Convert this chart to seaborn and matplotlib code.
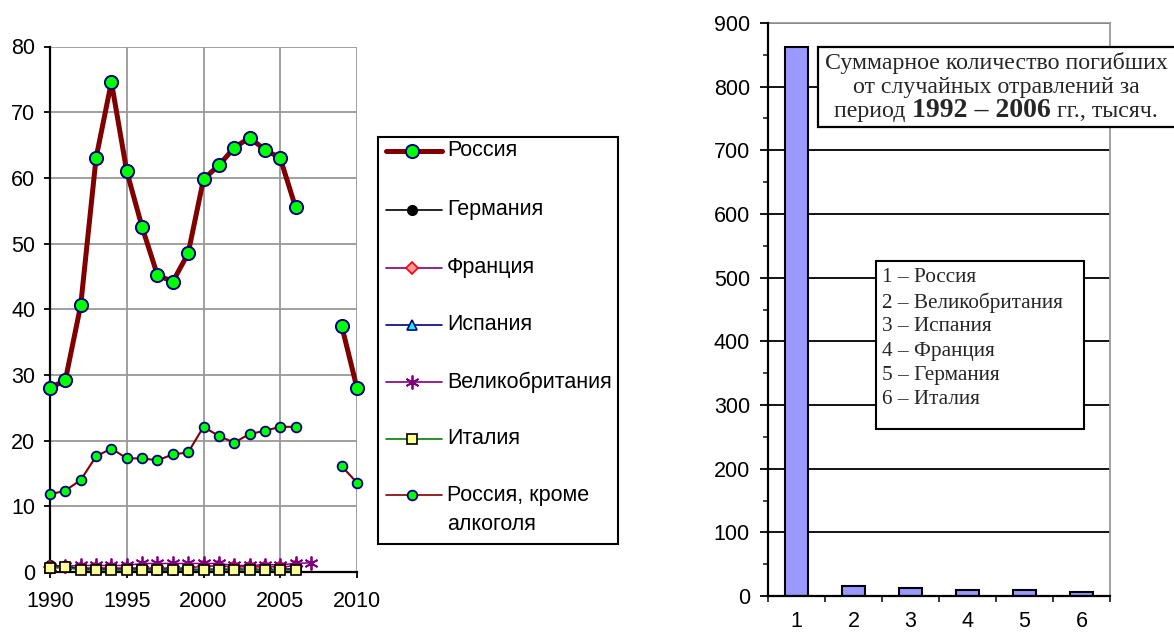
import matplotlib
matplotlib.use("Agg")
import matplotlib.pyplot as plt
import seaborn as sns
import numpy as np
import pandas as pd
from matplotlib.patches import Rectangle
from matplotlib.ticker import MultipleLocator, FixedLocator

# ---------------- data ----------------
years = list(range(1990, 2011))
russia = [28.0, 29.2, 40.6, 63.0, 74.6, 61.0, 52.5, 45.2, 44.2, 48.5, 59.8,
          61.9, 64.6, 66.1, 64.3, 63.0, 55.5, None, None, 37.5, 28.0]
russia_no_alcohol = [11.8, 12.4, 14.0, 17.6, 18.8, 17.3, 17.3, 17.0, 17.9, 18.2, 22.1,
                     20.7, 19.7, 21.0, 21.5, 22.1, 22.1, None, None, 16.1, 13.6]
germany = [1.0, 0.9, 0.5, 0.4, 0.4, 0.4, 0.4, 0.3, 0.3, 0.3, 0.4,
           0.4, 0.4, 0.4, 0.4, 0.4, 0.4, None, None, None, None]
france = [0.8, 0.7, 0.6, 0.6, 0.6, 0.6, 0.6, 0.6, 0.6, 0.6, 0.9,
          0.9, 0.8, 0.8, 0.8, 0.8, 0.9, None, None, None, None]
spain = [0.6, 0.8, 0.4, 0.4, 0.4, 0.4, 0.4, 0.4, 0.4, 0.4, 0.4,
         0.4, 0.4, 0.4, 0.3, 0.4, 0.5, None, None, None, None]
uk = [0.8, 0.9, 1.0, 1.0, 1.0, 1.0, 1.3, 1.3, 1.3, 1.3, 1.3,
      1.3, 1.0, 1.0, 1.1, 1.1, 1.3, 1.4, None, None, None]
italy = [0.6, 0.7, 0.3, 0.3, 0.3, 0.3, 0.3, 0.3, 0.3, 0.3, 0.3,
         0.3, 0.3, 0.3, 0.3, 0.3, 0.3, None, None, None, None]

series_names = ["Россия", "Германия", "Франция", "Испания", "Великобритания",
                "Италия", "Россия, кроме\nалкоголя"]

bar_labels = ["1", "2", "3", "4", "5", "6"]
bar_values = [862, 16, 12, 9, 9, 6]
bar_countries = ["Россия", "Великобритания", "Испания", "Франция", "Германия", "Италия"]

x_ticks_left = [1990, 1995, 2000, 2005, 2010]
y_ticks_left = list(range(0, 81, 10))
y_ticks_right = list(range(0, 901, 100))

# ---------------- style ----------------
sns.set_style("white")
plt.rcParams["font.family"] = ["Liberation Sans", "DejaVu Sans"]
plt.rcParams["axes.unicode_minus"] = False

W, H = 1174, 634
fig = plt.figure(figsize=(W / 100, H / 100), dpi=100)
fig.patch.set_facecolor("white")

def fx(px):
    return px / W

def fy(py):
    return 1 - py / H

# ---------------- left chart ----------------
axl = fig.add_axes([fx(50), fy(572), fx(357) - fx(50), fy(46.5) - fy(572)])

styles = {
    "Россия": dict(color="#800000", lw=3.6, marker="o", ms=9.5, mfc="#00FF00", mec="#000080", mew=1.4, z=6),
    "Германия": dict(color="black", lw=1.1, marker="o", ms=7, mfc="black", mec="black", mew=1, z=4),
    "Франция": dict(color="#800080", lw=1.1, marker="D", ms=6, mfc="#FF9999", mec="#FF0000", mew=1.2, z=4),
    "Испания": dict(color="#000080", lw=1.1, marker="^", ms=7, mfc="#00FFFF", mec="#000080", mew=1.2, z=4),
    "Великобритания": dict(color="#800080", lw=1.1, marker=(6, 2, 0), ms=10, mfc="#800080", mec="#800080", mew=1.3, z=4),
    "Италия": dict(color="#008000", lw=1.1, marker="s", ms=6.5, mfc="#FFFF99", mec="black", mew=1.2, z=5),
    "Россия, кроме\nалкоголя": dict(color="#800000", lw=1.5, marker="o", ms=7, mfc="#00FF00", mec="#000080", mew=1.3, z=6),
}
data_map = {
    "Россия": russia, "Германия": germany, "Франция": france, "Испания": spain,
    "Великобритания": uk, "Италия": italy, "Россия, кроме\nалкоголя": russia_no_alcohol,
}

def segments(xs, ys):
    segs, cur = [], []
    for x, y in zip(xs, ys):
        if y is None:
            if cur:
                segs.append(cur)
            cur = []
        else:
            cur.append((x, y))
    if cur:
        segs.append(cur)
    return segs

draw_order = ["Германия", "Франция", "Италия", "Испания", "Великобритания",
              "Россия, кроме\nалкоголя", "Россия"]
for name in draw_order:
    st = styles[name]
    for seg in segments(years, data_map[name]):
        df = pd.DataFrame(seg, columns=["year", "value"])
        sns.lineplot(data=df, x="year", y="value", ax=axl, sort=False, estimator=None,
                     color=st["color"], linewidth=st["lw"], marker=st["marker"],
                     markersize=st["ms"], markerfacecolor=st["mfc"],
                     markeredgecolor=st["mec"], markeredgewidth=st["mew"],
                     zorder=st["z"], clip_on=False)

axl.set_xlim(1990, 2010)
axl.set_ylim(0, 80)
axl.set_xticks(x_ticks_left)
axl.set_yticks(y_ticks_left)
axl.set_xlabel("")
axl.set_ylabel("")
axl.grid(True, color="#999999", linewidth=1.3)
axl.set_axisbelow(True)
for s in ["top", "right"]:
    axl.spines[s].set_visible(False)
for s in ["left", "bottom"]:
    axl.spines[s].set_color("black")
    axl.spines[s].set_linewidth(1.6)
    axl.spines[s].set_zorder(3)
axl.tick_params(axis="x", direction="out", length=4.5, width=1.3, pad=9, labelsize=15.5, colors="black", bottom=True)
axl.tick_params(axis="y", direction="out", length=4.5, width=1.3, pad=6, labelsize=15.5, colors="black", left=True)

# ---------------- right chart ----------------
axr = fig.add_axes([fx(768), fy(596), fx(1110) - fx(768), fy(23) - fy(596)])
dfb = pd.DataFrame({"label": bar_labels, "value": bar_values})
sns.barplot(data=dfb, x="label", y="value", ax=axr, order=bar_labels, color="#9999FF",
            saturation=1, edgecolor="black", linewidth=1.5, width=0.42, zorder=3)
axr.set_xlim(-0.5, len(bar_labels) - 0.5)
axr.set_ylim(0, 900)
axr.set_yticks(y_ticks_right)
axr.yaxis.set_minor_locator(MultipleLocator(50))
axr.xaxis.set_minor_locator(FixedLocator(np.arange(-0.5, len(bar_labels), 1.0)))
axr.set_xlabel("")
axr.set_ylabel("")
axr.grid(True, axis="y", which="major", color="black", linewidth=1.3)
axr.grid(False, axis="x")
axr.set_axisbelow(True)
for s in ["top", "right"]:
    axr.spines[s].set_color("#999999")
    axr.spines[s].set_linewidth(1.3)
for s in ["left", "bottom"]:
    axr.spines[s].set_color("black")
    axr.spines[s].set_linewidth(1.6)
    axr.spines[s].set_zorder(4)
axr.tick_params(axis="y", which="major", direction="out", length=6, width=1.3, pad=7, labelsize=15.5, colors="black", left=True)
axr.tick_params(axis="y", which="minor", direction="out", length=3.5, width=1.2, left=True)
axr.tick_params(axis="x", which="major", length=0, pad=11, labelsize=15.5, colors="black")
axr.tick_params(axis="x", which="minor", direction="out", length=4, width=1.3, bottom=True)

# ---------------- overlay (legend boxes and annotations) ----------------
ov = fig.add_axes([0, 0, 1, 1])
ov.set_xlim(0, W)
ov.set_ylim(H, 0)
ov.axis("off")
ov.patch.set_alpha(0)
ov.set_zorder(10)

# left legend
ov.add_patch(Rectangle((378, 137), 240, 407, facecolor="white", edgecolor="black", linewidth=1.5))
leg_y = [151, 210, 268, 325, 382, 439, 495]
for name, y in zip(series_names, leg_y):
    st = styles[name]
    lw = st["lw"] if name == "Россия" else 1.2
    ov.plot([386, 442], [y, y], color=st["color"], linewidth=lw, solid_capstyle="round")
    ov.plot([412], [y], linestyle="none", marker=st["marker"], markersize=st["ms"],
            markerfacecolor=st["mfc"], markeredgecolor=st["mec"], markeredgewidth=st["mew"])
    lines = name.split("\n")
    for k, line in enumerate(lines):
        ov.text(447, y + k * 30, line, fontsize=15.5, va="center", ha="left", color="black")

serif = ["Liberation Serif", "DejaVu Serif"]

# right annotation box
ov.add_patch(Rectangle((818, 47), 420, 80, facecolor="white", edgecolor="black", linewidth=1.6, clip_on=True))
cx = 996
ov.text(cx, 63, "Суммарное количество погибших", family=serif, fontsize=17.2, ha="center", va="center")
ov.text(cx, 87, "от случайных отравлений за", family=serif, fontsize=17.2, ha="center", va="center")

renderer = fig.canvas.get_renderer()
parts = [("период ", "normal", 17.2), ("1992 – 2006", "bold", 20), (" гг., тысяч.", "normal", 17.2)]
texts = []
for s, wgt, fs in parts:
    t = ov.text(0, 117, s, family=serif, fontsize=fs, fontweight=wgt, ha="left", va="baseline")
    texts.append(t)
widths = [t.get_window_extent(renderer=renderer).width for t in texts]
x0 = cx - sum(widths) / 2
for t, w in zip(texts, widths):
    t.set_x(x0)
    t.set_y(117)
    x0 += w

# right legend box
ov.add_patch(Rectangle((876, 261), 208, 168, facecolor="white", edgecolor="black", linewidth=1.5))
for i, (lab, country) in enumerate(zip(bar_labels, bar_countries)):
    ov.text(882, 278 + i * 24.4, f"{lab} – {country}", family=serif, fontsize=15.3,
            ha="left", va="center")

fig.savefig("out.png", dpi=100)
